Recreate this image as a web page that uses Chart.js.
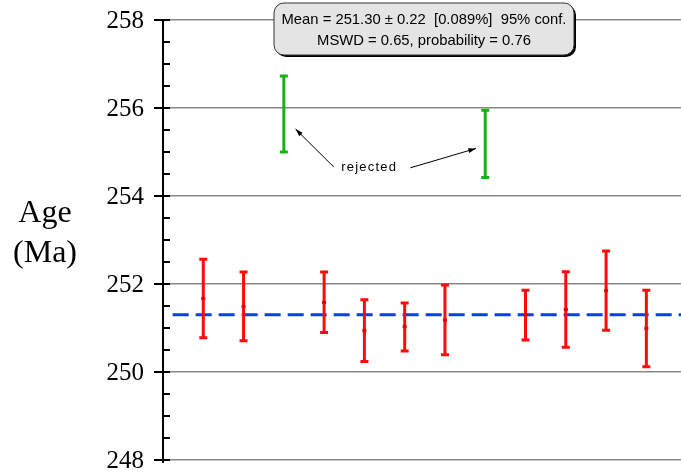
<!DOCTYPE html>
<html>
<head>
<meta charset="utf-8">
<script src="https://cdn.jsdelivr.net/npm/chart.js@4.4.0/dist/chart.umd.min.js"></script>
<style>
  html, body { margin: 0; padding: 0; background: #fff; }
  #wrap { width: 681px; height: 475px; }
</style>
</head>
<body>
<div id="wrap"><canvas id="chart"></canvas></div>
<script>
// analysis index (1..12)
const spots = [1, 2, 3, 4, 5, 6, 7, 8, 9, 10, 11, 12];
// ages (Ma) with 2-sigma limits
const ages = [251.67, 251.49, 255.86, 251.58, 250.94, 251.03, 251.18, 255.18, 251.30, 251.42, 251.85, 250.99];
const lower = [250.78, 250.71, 255.00, 250.90, 250.24, 250.48, 250.39, 254.42, 250.73, 250.56, 250.95, 250.12];
const upper = [252.56, 252.27, 256.73, 252.27, 251.64, 251.57, 251.98, 255.95, 251.86, 252.28, 252.75, 251.86];
const rejected = [false, false, true, false, false, false, false, true, false, false, false, false];
const weightedMean = 251.30;
const yTicks = [248, 250, 252, 254, 256, 258];
const boxLines = ['Mean = 251.30 \u00b1 0.22  [0.089%]  95% conf.', 'MSWD = 0.65, probability = 0.76'];

const points = spots.map((s, i) => ({ x: s, y: ages[i] }));

const errorBars = {
  id: 'errorBars',
  afterDatasetsDraw(chart) {
    const ctx = chart.ctx;
    const xs = chart.scales.x, ys = chart.scales.y;
    ctx.save();
    spots.forEach((s, i) => {
      const px = xs.getPixelForValue(s);
      const top = ys.getPixelForValue(upper[i]);
      const bot = ys.getPixelForValue(lower[i]);
      const mid = ys.getPixelForValue(ages[i]);
      ctx.strokeStyle = rejected[i] ? '#12b312' : '#ff0a0a';
      ctx.lineWidth = 3;
      ctx.beginPath();
      ctx.moveTo(px, top); ctx.lineTo(px, bot);
      ctx.stroke();
      ctx.beginPath();
      ctx.moveTo(px - 4, top); ctx.lineTo(px + 4, top);
      ctx.moveTo(px - 4, bot); ctx.lineTo(px + 4, bot);
      ctx.stroke();
      if (!rejected[i]) {
        ctx.fillStyle = '#e00000';
        ctx.fillRect(px - 2, mid - 1.5, 4, 3);
      }
    });
    ctx.restore();
  }
};

function arrow(ctx, x1, y1, x2, y2) {
  const a = Math.atan2(y2 - y1, x2 - x1);
  ctx.beginPath();
  ctx.moveTo(x1, y1); ctx.lineTo(x2, y2);
  ctx.stroke();
  ctx.beginPath();
  ctx.moveTo(x2, y2);
  ctx.lineTo(x2 - 8 * Math.cos(a - 0.3), y2 - 8 * Math.sin(a - 0.3));
  ctx.lineTo(x2 - 8 * Math.cos(a + 0.3), y2 - 8 * Math.sin(a + 0.3));
  ctx.closePath();
  ctx.fill();
}

const decorations = {
  id: 'decorations',
  afterDraw(chart) {
    const ctx = chart.ctx;
    const xs = chart.scales.x, ys = chart.scales.y;
    const area = chart.chartArea;
    ctx.save();

    // axis line and ticks
    ctx.strokeStyle = '#000';
    ctx.lineWidth = 2;
    ctx.beginPath();
    ctx.moveTo(area.left, area.top - 1);
    ctx.lineTo(area.left, area.bottom + 3);
    for (let v = 248; v <= 258.001; v += 0.5) {
      const py = Math.round(ys.getPixelForValue(v));
      const major = Math.abs(v % 2) < 0.01;
      ctx.moveTo(major ? area.left - 9 : area.left, py);
      ctx.lineTo(area.left + 7, py);
    }
    ctx.stroke();

    // tick labels
    ctx.fillStyle = '#000';
    ctx.font = '25px "Liberation Serif", serif';
    ctx.textAlign = 'right';
    ctx.textBaseline = 'middle';
    yTicks.forEach(v => ctx.fillText(String(v), 144, ys.getPixelForValue(v) + 1));

    // Age (Ma)
    ctx.font = '32px "Liberation Serif", serif';
    ctx.textAlign = 'center';
    ctx.textBaseline = 'alphabetic';
    ctx.fillText('Age', 45, 222);
    ctx.fillText('(Ma)', 45, 262);

    // rejected arrows
    ctx.strokeStyle = '#000';
    ctx.fillStyle = '#000';
    ctx.lineWidth = 1;
    arrow(ctx, xs.getPixelForValue(4.24), ys.getPixelForValue(254.66), xs.getPixelForValue(3.29), ys.getPixelForValue(255.52));
    arrow(ctx, xs.getPixelForValue(6.14), ys.getPixelForValue(254.64), xs.getPixelForValue(7.77), ys.getPixelForValue(255.08));
    ctx.font = '13px "Liberation Sans", Arial, sans-serif';
    ctx.letterSpacing = '1.2px';
    ctx.textBaseline = 'middle';
    ctx.fillText('rejected', xs.getPixelForValue(5.12), ys.getPixelForValue(254.66));
    ctx.letterSpacing = '0px';

    // stats box
    const bx = 274, by = 3, bw = 300, bh = 52;
    ctx.fillStyle = '#000';
    ctx.beginPath();
    ctx.roundRect(bx + 2, by + 2, bw, bh, 10);
    ctx.fill();
    ctx.fillStyle = '#e4e4e4';
    ctx.strokeStyle = '#333';
    ctx.lineWidth = 1;
    ctx.beginPath();
    ctx.roundRect(bx, by, bw, bh, 10);
    ctx.fill();
    ctx.stroke();
    ctx.fillStyle = '#000';
    ctx.font = '14.8px "Liberation Sans", Arial, sans-serif';
    ctx.textBaseline = 'middle';
    ctx.fillText(boxLines[0], bx + bw / 2, 20);
    ctx.fillText(boxLines[1], bx + bw / 2, 41);
    ctx.restore();
  }
};

new Chart(document.getElementById('chart'), {
  type: 'scatter',
  data: {
    datasets: [
      {
        label: 'ages',
        data: points,
        pointRadius: 0,
        showLine: false,
      },
      {
        type: 'line',
        label: 'mean',
        data: [{ x: 0.24, y: weightedMean }, { x: 12.86, y: weightedMean }],
        borderColor: '#0a3fe0',
        borderWidth: 3,
        borderDash: [16, 7],
        pointRadius: 0,
        fill: false,
      },
    ],
  },
  plugins: [errorBars, decorations],
  options: {
    responsive: true,
    maintainAspectRatio: false,
    animation: false,
    layout: { padding: { top: 20, bottom: 15, right: 0, left: 0 } },
    plugins: { legend: { display: false }, tooltip: { enabled: false } },
    scales: {
      x: {
        type: 'linear',
        min: 0,
        max: 12.86,
        display: false,
      },
      y: {
        min: 248,
        max: 258,
        afterFit(scale) { scale.width = 163; },
        afterBuildTicks(scale) { scale.ticks = yTicks.map(v => ({ value: v })); },
        border: { display: false },
        grid: { color: '#888', lineWidth: 1.5, drawTicks: false },
        ticks: { display: false },
      },
    },
  },
});
</script>
</body>
</html>
